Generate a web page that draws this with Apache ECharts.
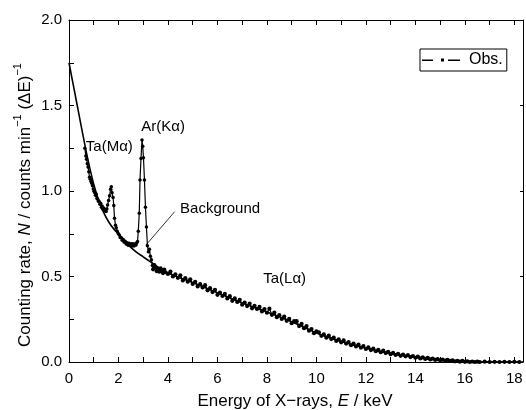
<!DOCTYPE html>
<html>
<head>
<meta charset="utf-8">
<script src="https://cdn.jsdelivr.net/npm/echarts@6/dist/echarts.min.js"></script>
<style>
  html, body { margin: 0; padding: 0; background: #fff; }
  #chart { width: 526px; height: 410px; }
</style>
</head>
<body>
<div id="chart"></div>
<script>
// observed spectrum, low energy part (Ta(Ma) and Ar(Ka) peaks) [E keV, N]
var obsLow = [
  [0.64,1.250],[0.68,1.205],[0.71,1.185],[0.74,1.160],[0.77,1.140],[0.80,1.112],[0.83,1.080],[0.86,1.068],
  [0.89,1.055],[0.92,1.045],[0.95,1.030],[0.98,1.012],[1.01,0.998],[1.04,0.990],[1.07,0.975],[1.10,0.982],
  [1.13,0.958],[1.16,0.952],[1.19,0.940],[1.22,0.938],[1.25,0.922],[1.28,0.928],[1.31,0.905],[1.34,0.912],
  [1.37,0.893],[1.40,0.900],[1.43,0.884],[1.46,0.892],[1.50,0.880],[1.53,0.895],[1.56,0.918],[1.60,0.945],
  [1.64,0.972],[1.68,1.010],[1.71,1.025],[1.74,0.990],[1.78,0.962],[1.81,0.915],[1.84,0.840],[1.88,0.800],
  [1.91,0.785],[1.95,0.765],[1.99,0.752],[2.03,0.742],[2.07,0.728],[2.11,0.726],[2.15,0.712],[2.19,0.716],
  [2.23,0.700],[2.27,0.706],[2.31,0.690],[2.35,0.697],[2.39,0.683],[2.43,0.695],[2.47,0.681],[2.51,0.692],
  [2.55,0.679],[2.59,0.691],[2.63,0.678],[2.67,0.690],[2.71,0.684],[2.74,0.697],[2.77,0.705],[2.80,0.765],
  [2.84,0.870],[2.87,1.064],[2.91,1.190],[2.95,1.298],[2.98,1.262],[3.01,1.195],[3.05,1.064],[3.09,0.905],
  [3.13,0.790],[3.17,0.680],[3.21,0.645],[3.25,0.660],[3.29,0.618],[3.33,0.598],[3.37,0.565]
];
// observed spectrum, 3.4 - 10 keV
var obsMid = [
  [3.4,0.542],[3.45,0.566],[3.5,0.552],[3.55,0.531],[3.6,0.545],[3.65,0.528],[3.7,0.548],[3.75,0.536],
  [3.8,0.520],[3.85,0.541],[3.9,0.525],[4.0,0.515],[4.1,0.529],
  [4.2,0.500],[4.3,0.513],[4.4,0.492],[4.5,0.507],[4.6,0.477],[4.7,0.490],[4.8,0.470],[4.9,0.484],
  [5.0,0.456],[5.1,0.469],[5.2,0.442],[5.3,0.455],[5.4,0.436],[5.5,0.449],[5.6,0.419],[5.7,0.432],
  [5.8,0.409],[5.9,0.422],[6.0,0.393],[6.1,0.406],[6.2,0.386],[6.3,0.399],[6.4,0.372],[6.5,0.385],
  [6.6,0.358],[6.7,0.372],[6.8,0.351],[6.9,0.364],[7.0,0.335],[7.1,0.348],[7.2,0.327],[7.3,0.341],
  [7.4,0.314],[7.5,0.329],[7.6,0.310],[7.7,0.322],[7.8,0.296],[7.9,0.310],[8.0,0.288],[8.1,0.312],
  [8.2,0.276],[8.3,0.289],[8.4,0.262],[8.5,0.274],[8.6,0.252],[8.7,0.266],[8.8,0.241],[8.9,0.252],
  [9.0,0.227],[9.1,0.239],[9.2,0.239],[9.3,0.210],[9.4,0.223],[9.5,0.198],[9.6,0.210],[9.7,0.183],
  [9.8,0.193],[9.9,0.168],[10.0,0.179]
];
// observed spectrum, 10 - 18 keV
var obsHigh = [
  [10.1,0.174],[10.2,0.153],[10.3,0.161],[10.4,0.142],[10.5,0.154],[10.6,0.134],[10.7,0.142],[10.8,0.123],
  [10.9,0.132],[11.0,0.115],[11.1,0.126],[11.2,0.108],[11.3,0.117],[11.4,0.098],[11.5,0.108],[11.6,0.091],
  [11.7,0.102],[11.8,0.084],[11.9,0.093],[12.0,0.076],[12.1,0.085],[12.2,0.070],[12.3,0.078],[12.4,0.063],
  [12.5,0.071],[12.6,0.057],[12.7,0.066],[12.8,0.052],[12.9,0.060],[13.0,0.046],[13.1,0.053],[13.2,0.041],
  [13.3,0.048],[13.4,0.036],[13.5,0.044],[13.6,0.033],[13.7,0.040],[13.8,0.029],[13.9,0.035],[14.0,0.025],
  [14.1,0.031],[14.2,0.021],[14.3,0.027],[14.4,0.018],[14.5,0.024],[14.6,0.015],[14.7,0.020],[14.8,0.012],
  [14.9,0.017],[15.0,0.009],[15.1,0.014],[15.2,0.008],[15.3,0.012],[15.4,0.006],[15.5,0.009],[15.6,0.004],
  [15.7,0.007],[15.8,0.002],[15.9,0.006],[16.0,0.001],[16.1,0.004],[16.2,0.000],[16.3,0.003],[16.4,0.000],
  [16.5,0.002],[16.6,0.000],[16.8,0.002],[17.0,0.000],[17.2,0.001],[17.4,0.000],[17.6,0.001],[17.8,0.000],
  [18.0,0.001],[18.2,0.000]
];
// fitted background curve
var background = [
  [0,1.75],[0.2,1.60],[0.4,1.45],[0.6,1.30],[0.8,1.16],[1.0,1.04],[1.2,0.945],[1.4,0.875],
  [1.6,0.82],[1.8,0.78],[2.0,0.75],[2.25,0.71],[2.5,0.67],[2.75,0.64],[3.0,0.615],[3.25,0.59],
  [3.5,0.565],[4,0.52],[5,0.465],[6,0.405],[7,0.345],[8,0.293],[9,0.235],[10,0.17],
  [11,0.12],[12,0.08],[13,0.05],[14,0.028],[15,0.012],[16,0.003],[17,0],[18.35,0]
];
// peak labels: text, E, N (left-middle of the text)
var notes = [
  ['Ta(Mα)', 0.68, 1.257],
  ['Ar(Kα)', 2.92, 1.374],
  ['Background', 4.49, 0.895],
  ['Ta(Lα)', 7.85, 0.485]
];
var pointer = [[4.27, 0.879], [3.11, 0.684]];

var FONT = "'Liberation Sans', Arial, sans-serif";
var chart = echarts.init(document.getElementById('chart'));

var obsData = obsLow.concat(obsMid, obsHigh);

var options = {
  animation: false,
  backgroundColor: '#fff',
  textStyle: { fontFamily: FONT, color: '#000' },
  grid: { left: 69, top: 20, width: 458, height: 342 },
  legend: {
    data: ['Obs.'],
    left: 420, top: 49,
    orient: 'horizontal',
    icon: 'path://M0,1h11v1.4h-11z M19,0h3v3h-3z M26,1h12v1.4h-12z',
    itemWidth: 38, itemHeight: 3,
    padding: [3, 4, 3, 2],
    borderColor: '#000', borderWidth: 1,
    backgroundColor: '#fff',
    textStyle: { fontSize: 16, color: '#000', fontFamily: FONT, padding: [0, 0, 0, 4] }
  },
  xAxis: [{
    type: 'value', position: 'bottom',
    min: 0, max: 18.35, interval: 1,
    axisLine: { onZero: false, lineStyle: { color: '#000', width: 1 } },
    axisTick: { inside: true, length: 5, lineStyle: { color: '#000' } },
    axisLabel: {
      margin: 9, fontSize: 15, color: '#000', fontFamily: FONT,
      formatter: function (v) { return (Math.abs(v % 2) < 1e-6) ? String(v) : ''; }
    },
    splitLine: { show: false }
  }, {
    type: 'value', position: 'top',
    min: 0, max: 18.35, interval: 1,
    axisLine: { onZero: false, lineStyle: { color: '#000', width: 1 } },
    axisTick: { inside: true, length: 5, lineStyle: { color: '#000' } },
    axisLabel: { show: false },
    splitLine: { show: false }
  }],
  yAxis: [{
    type: 'value', position: 'left',
    min: 0, max: 2, interval: 0.25,
    axisLine: { show: true, onZero: false, lineStyle: { color: '#000', width: 1 } },
    axisTick: { show: true, inside: true, length: 5, lineStyle: { color: '#000' } },
    axisLabel: {
      margin: 7, fontSize: 15, color: '#000', fontFamily: FONT,
      formatter: function (v) { return (Math.abs(v * 2 - Math.round(v * 2)) < 1e-6) ? v.toFixed(1) : ''; }
    },
    splitLine: { show: false }
  }, {
    type: 'value', position: 'right',
    min: 0, max: 2, interval: 0.5,
    axisLine: { show: true, onZero: false, lineStyle: { color: '#000', width: 1 } },
    axisTick: { show: true, inside: true, length: 3, lineStyle: { color: '#000' } },
    axisLabel: { show: false },
    splitLine: { show: false }
  }],
  graphic: [{
    type: 'text', x: 23, y: 205, rotation: Math.PI / 2,
    style: {
      text: '{n|Counting rate, }{i|N}{n| / counts min}{s|−1}{n| (ΔE)}{s|−1}',
      align: 'center', verticalAlign: 'middle',
      fontFamily: FONT, fill: '#000',
      rich: {
        n: { fontSize: 17, fontFamily: FONT, lineHeight: 22, verticalAlign: 'bottom' },
        i: { fontSize: 17, fontFamily: FONT, fontStyle: 'italic', lineHeight: 22, verticalAlign: 'bottom' },
        s: { fontSize: 11, fontFamily: FONT, lineHeight: 22, verticalAlign: 'top' }
      }
    }
  }, {
    type: 'text', x: 295, y: 401,
    style: {
      text: '{n|Energy of X−rays, }{i|E}{n| / keV}',
      align: 'center', verticalAlign: 'middle',
      fontFamily: FONT, fill: '#000',
      rich: {
        n: { fontSize: 17, fontFamily: FONT },
        i: { fontSize: 17, fontFamily: FONT, fontStyle: 'italic' }
      }
    }
  }],
  series: [{
    name: 'Background',
    type: 'line',
    data: background,
    smooth: 0.4,
    showSymbol: false,
    lineStyle: { color: '#000', width: 1.6 },
    itemStyle: { color: '#000' },
    z: 2,
    markLine: {
      silent: true,
      symbol: ['none', 'none'],
      label: { show: false },
      lineStyle: { color: '#000', width: 0.8, type: 'solid' },
      data: [[{ coord: pointer[0] }, { coord: pointer[1] }]]
    },
    markPoint: {
      silent: true,
      symbol: 'circle', symbolSize: 0,
      label: {
        show: true, position: 'right', distance: 0,
        fontSize: 15, color: '#000', fontFamily: FONT,
        formatter: function (p) { return p.name; }
      },
      data: notes.map(function (n) { return { name: n[0], coord: [n[1], n[2]] }; })
    }
  }, {
    name: 'Obs.',
    type: 'line',
    data: obsData,
    symbol: 'circle',
    // peaks drawn with finer dots, the noisy tail with heavier ones
    symbolSize: function (v) { return v[0] < 3.4 ? 3.5 : 4.2; },
    showSymbol: true,
    lineStyle: { color: '#000', width: 1.2 },
    itemStyle: { color: '#000' },
    z: 3
  }]
};
chart.setOption(options);
</script>
</body>
</html>
